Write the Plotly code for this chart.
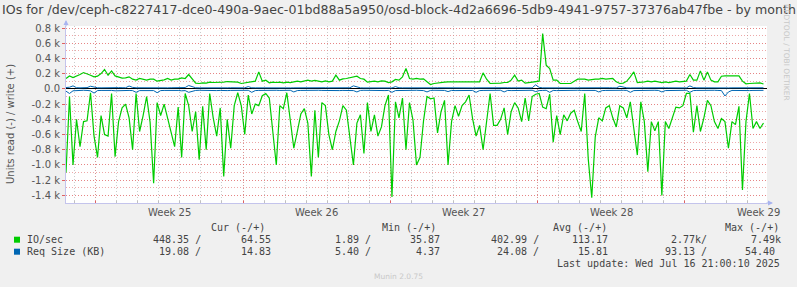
import plotly.graph_objects as go
import pandas as pd

# ---------------- data ----------------
t_start = "2025-06-13 14:00"
n_points = 200
times = pd.date_range(t_start, periods=n_points, freq="4h")

# IO/sec, read (drawn below zero) and write (drawn above zero)
io_read = [1100, 100, 1000, 400, 760, 430, 420, 50, 620, 900,
           350, 600, 620, 60, 890, 430, 250, 200, 380, 800,
           60, 560, 350, 100, 440, 1240, 180, 350, 200, 400,
           600, 760, 240, 900, 60, 220, 560, 300, 930, 230,
           800, 60, 380, 620, 250, 1150, 400, 780, 220, 50,
           220, 600, 80, 330, 200, 220, 90, 60, 120, 610,
           1000, 220, 260, 50, 420, 780, 560, 330, 260, 450,
           1150, 280, 900, 180, 220, 600, 800, 560, 420, 220,
           280, 650, 1000, 450, 340, 850, 180, 560, 340, 620,
           500, 220, 80, 1420, 170, 380, 120, 800, 180, 410,
           1000, 900, 420, 100, 130, 120, 580, 300, 150, 1000,
           430, 220, 360, 220, 170, 80, 390, 620, 480, 800,
           420, 60, 480, 480, 400, 250, 600, 300, 180, 250,
           430, 120, 420, 100, 70, 60, 240, 260, 70, 700,
           350, 600, 340, 420, 320, 280, 430, 560, 60, 920,
           1430, 630, 380, 420, 250, 220, 380, 500, 220, 250,
           380, 170, 520, 870, 170, 430, 1090, 430, 550, 430,
           1400, 430, 520, 380, 240, 250, 220, 60, 60, 570,
           220, 560, 380, 150, 220, 430, 520, 390, 430, 780,
           430, 470, 230, 1330, 430, 60, 520, 430, 520, 448]

io_write = [137, 171, 150, 166, 189, 215, 202, 180, 159, 167,
            202, 255, 180, 237, 171, 154, 141, 145, 159, 128,
            115, 137, 128, 115, 128, 128, 102, 106, 119, 137,
            115, 128, 128, 145, 137, 189, 137, 76, 71, 80,
            76, 89, 84, 84, 93, 89, 97, 97, 89, 89,
            71, 80, 84, 93, 102, 224, 102, 115, 80, 89,
            84, 89, 80, 89, 84, 93, 102, 93, 106, 115,
            102, 111, 102, 93, 106, 93, 102, 180, 115, 132,
            137, 145, 154, 167, 137, 128, 89, 93, 102, 93,
            106, 102, 84, 93, 124, 115, 159, 268, 137, 128,
            137, 128, 132, 93, 58, 71, 80, 80, 89, 93,
            93, 84, 84, 93, 93, 84, 84, 93, 93, 211,
            128, 71, 71, 71, 76, 84, 84, 115, 180, 102,
            115, 76, 84, 84, 93, 102, 727, 312, 268, 115,
            115, 71, 71, 71, 71, 102, 128, 128, 128, 115,
            124, 128, 128, 137, 128, 137, 137, 93, 71, 76,
            102, 159, 224, 84, 84, 93, 102, 93, 102, 93,
            84, 93, 84, 93, 102, 93, 102, 102, 189, 115,
            115, 237, 115, 224, 115, 93, 93, 167, 171, 171,
            171, 171, 171, 102, 67, 71, 76, 80, 80, 65]

# Request size (KB), read (below zero) and write (above zero)
req_read = [30, 60, 25, 20, 22, 18, 20, 25, 55, 22,
            20, 18, 22, 20, 25, 22, 20, 18, 20, 22,
            45, 22, 20, 18, 20, 22, 50, 22, 20, 18,
            20, 22, 20, 25, 22, 45, 30, 20, 18, 20,
            22, 20, 18, 22, 20, 24, 22, 20, 18, 20,
            22, 20, 18, 45, 22, 20, 18, 20, 22, 20,
            18, 20, 22, 20, 18, 40, 22, 20, 18, 20,
            22, 20, 18, 20, 22, 20, 18, 20, 22, 20,
            18, 20, 22, 40, 20, 18, 20, 22, 20, 18,
            20, 22, 20, 45, 22, 20, 18, 20, 22, 20,
            18, 20, 22, 40, 20, 18, 20, 22, 20, 35,
            20, 22, 20, 18, 20, 22, 20, 45, 22, 20,
            18, 20, 22, 20, 18, 40, 20, 22, 20, 18,
            20, 22, 20, 18, 35, 22, 20, 18, 45, 20,
            22, 20, 18, 20, 22, 20, 18, 20, 22, 20,
            18, 20, 40, 22, 20, 18, 20, 22, 20, 18,
            20, 45, 22, 20, 18, 20, 22, 20, 18, 20,
            40, 22, 20, 18, 20, 22, 20, 18, 45, 22,
            20, 18, 20, 22, 20, 18, 20, 22, 93, 40,
            20, 22, 20, 18, 20, 22, 20, 18, 20, 19]

req_write = [18, 22, 40, 16, 14, 15, 17, 35, 20, 15,
             14, 16, 15, 14, 15, 17, 16, 15, 38, 20,
             15, 14, 16, 15, 14, 15, 16, 14, 15, 14,
             15, 16, 15, 14, 18, 45, 30, 15, 14, 13,
             14, 13, 14, 15, 14, 13, 14, 15, 14, 13,
             12, 14, 30, 15, 14, 13, 15, 14, 13, 14,
             13, 14, 15, 14, 13, 14, 15, 14, 13, 14,
             15, 14, 13, 14, 15, 14, 13, 16, 14, 13,
             14, 15, 40, 25, 14, 13, 14, 15, 14, 13,
             14, 15, 14, 13, 30, 15, 14, 13, 15, 14,
             13, 14, 15, 14, 13, 14, 15, 14, 13, 14,
             15, 14, 13, 14, 15, 14, 13, 14, 15, 14,
             13, 14, 15, 14, 13, 14, 15, 14, 13, 14,
             15, 14, 13, 14, 54, 20, 14, 13, 14, 15,
             14, 13, 14, 15, 14, 13, 14, 15, 14, 13,
             14, 15, 14, 13, 14, 15, 14, 13, 35, 20,
             14, 13, 14, 15, 14, 13, 14, 15, 14, 13,
             14, 15, 14, 13, 14, 15, 14, 13, 40, 18,
             14, 13, 14, 15, 14, 13, 14, 15, 14, 13,
             14, 15, 14, 13, 14, 15, 14, 13, 14, 15]

x_range = ["2025-06-13 14:00", "2025-07-16 22:00"]
week_starts = ["2025-06-15", "2025-06-22", "2025-06-29", "2025-07-06", "2025-07-13"]
week_labels = ["Week 25", "Week 26", "Week 27", "Week 28", "Week 29"]
y_range = [-1500, 827]
y_tickvals = [-1400, -1200, -1000, -800, -600, -400, -200, 0, 200, 400, 600, 800]
y_ticktext = ["-1.4 k", "-1.2 k", "-1.0 k", "-0.8 k", "-0.6 k", "-0.4 k", "-0.2 k",
              "0.0", "0.2 k", "0.4 k", "0.6 k", "0.8 k"]

title_text = ("IOs for /dev/ceph-c8227417-dce0-490a-9aec-01bd88a5a950/osd-block-"
              "4d2a6696-5db9-4941-9757-37376ab47fbe - by month")
y_title = "Units read (-) / write (+)"

legend_names = ["IO/sec", "Req Size (KB)"]
legend_colors = ["#00cc00", "#0066b3"]
legend_headers = ["Cur (-/+)", "Min (-/+)", "Avg (-/+)", "Max (-/+)"]
stat_cur = [("448.35 /", "64.55"), ("19.08 /", "14.83")]
stat_min = [("1.89 /", "35.87"), ("5.40 /", "4.37")]
stat_avg = [("402.99 /", "113.17"), ("24.08 /", "15.81")]
stat_max = [("2.77k/", "7.49k"), ("93.13 /", "54.40")]
last_update = "Last update: Wed Jul 16 21:00:10 2025"
munin_version = "Munin 2.0.75"
rrd_credit = "RRDTOOL / TOBI OETIKER"

# ---------------- layout geometry ----------------
W, H = 797, 287
ML, MR, MT, MB = 66, 30, 26, 84
PW, PH = W - ML - MR, H - MT - MB


def pxx(x):
    return (x - ML) / PW


def pxy(y):
    return (H - MB - y) / PH


GREEN, BLUE = legend_colors
fig = go.Figure()
fig.add_trace(go.Scatter(x=times, y=[-v for v in io_read], mode="lines",
                         line=dict(color=GREEN, width=1.2), hoverinfo="skip"))
fig.add_trace(go.Scatter(x=times, y=io_write, mode="lines",
                         line=dict(color=GREEN, width=1.2), hoverinfo="skip"))
fig.add_trace(go.Scatter(x=times, y=[-v for v in req_read], mode="lines",
                         line=dict(color=BLUE, width=1), hoverinfo="skip"))
fig.add_trace(go.Scatter(x=times, y=req_write, mode="lines",
                         line=dict(color=BLUE, width=1), hoverinfo="skip"))

MAJ = "rgba(225,110,110,0.6)"
MIN = "rgba(170,170,170,0.6)"
DOT = "1px,2px"
AXC = "#c4c4ec"

fig.update_layout(
    width=W, height=H,
    margin=dict(l=ML, r=MR, t=MT, b=MB, pad=0),
    paper_bgcolor="#f0f0f0", plot_bgcolor="#ffffff",
    showlegend=False,
    font=dict(family="DejaVu Sans", size=10, color="#555555"),
    xaxis=dict(
        type="date", range=x_range, tickmode="array",
        tickvals=week_starts, ticktext=[""] * len(week_starts),
        showgrid=True, gridcolor=MAJ, griddash=DOT, gridwidth=1,
        ticks="inside", ticklen=2, tickcolor="#e06060",
        showline=True, linecolor=AXC, linewidth=1, zeroline=False,
        minor=dict(tickmode="linear", tick0="2025-06-15", dtick=86400000,
                   showgrid=True, gridcolor=MIN, griddash=DOT,
                   ticks="inside", ticklen=2, tickcolor="#c0c0c0"),
        fixedrange=True,
    ),
    yaxis=dict(
        range=y_range, tickmode="array", tickvals=y_tickvals, ticktext=y_ticktext,
        showgrid=True, gridcolor=MAJ, griddash=DOT, gridwidth=1,
        ticks="outside", ticklen=3, tickcolor="#e06060",
        showline=True, linecolor=AXC, linewidth=1,
        zeroline=True, zerolinecolor="#000000", zerolinewidth=1,
        minor=dict(tickmode="linear", tick0=0, dtick=100,
                   showgrid=True, gridcolor=MAJ, griddash=DOT),
        tickfont=dict(size=10, color="#555555"),
        fixedrange=True,
    ),
)

ann = []
# title (centred on the whole image, not the plot area)
ann.append(dict(text=title_text, x=pxx(W / 2), y=pxy(9.5), xref="paper", yref="paper",
                xanchor="center", yanchor="middle", showarrow=False,
                font=dict(family="DejaVu Sans", size=12.6, color="#444444")))
# y-axis title
ann.append(dict(text=y_title, x=pxx(10), y=pxy(124), xref="paper", yref="paper",
                xanchor="center", yanchor="middle", showarrow=False, textangle=-90,
                font=dict(family="DejaVu Sans", size=10, color="#555555")))
# week labels at mid-week
for ws, lab in zip(week_starts, week_labels):
    mid = pd.Timestamp(ws) + pd.Timedelta(hours=84)
    ann.append(dict(text=lab, x=mid, y=pxy(212), xref="x", yref="paper",
                    xanchor="center", yanchor="middle", showarrow=False,
                    font=dict(family="DejaVu Sans", size=10, color="#555555")))
# rrdtool credit
ann.append(dict(text=rrd_credit, x=pxx(787), y=pxy(53), xref="paper", yref="paper",
                xanchor="center", yanchor="middle", showarrow=False, textangle=90,
                font=dict(family="DejaVu Sans", size=7.5, color="#c8c8c8")))
# munin version
ann.append(dict(text=munin_version, x=pxx(398), y=pxy(276), xref="paper", yref="paper",
                xanchor="center", yanchor="middle", showarrow=False,
                font=dict(family="DejaVu Sans", size=7.5, color="#c8c8c8")))

MONO = dict(family="DejaVu Sans Mono", size=10, color="#444444")


def txt(s, x, y, anchor):
    ann.append(dict(text=s, x=pxx(x), y=pxy(y), xref="paper", yref="paper",
                    xanchor=anchor, yanchor="middle", showarrow=False, font=MONO))


# legend headers
for h, x0 in zip(legend_headers, [209, 380, 551, 723]):
    txt(h, x0, 227.3, "left")
row_y = [239.7, 251.7]
cols = [(stat_cur, 203, 273), (stat_min, 373, 442), (stat_avg, 541, 610), (stat_max, 709, 783)]
shapes = []
for i, name in enumerate(legend_names):
    y = row_y[i]
    txt(name, 25, y, "left")
    for stat, xa, xb in cols:
        a, b = stat[i]
        txt(a, xa, y, "right")
        txt(b, xb if not (stat is stat_max and i == 1) else 777, y, "right")
    shapes.append(dict(type="rect", xref="paper", yref="paper",
                       x0=pxx(14), x1=pxx(20), y0=pxy(y + 3), y1=pxy(y - 3),
                       fillcolor=legend_colors[i], line=dict(width=0)))
txt(last_update, 782, 263.3, "right")

# axis arrows
ann.append(dict(text="", x=pxx(773), y=pxy(203), ax=-8, ay=0,
                xref="paper", yref="paper", axref="pixel", ayref="pixel",
                showarrow=True, arrowhead=2, arrowsize=1, arrowwidth=1, arrowcolor="#a8b4f0"))
ann.append(dict(text="", x=pxx(66), y=pxy(20), ax=0, ay=8,
                xref="paper", yref="paper", axref="pixel", ayref="pixel",
                showarrow=True, arrowhead=2, arrowsize=1, arrowwidth=1, arrowcolor="#a8b4f0"))

fig.update_layout(annotations=ann, shapes=shapes)
fig.write_html("out.html")
